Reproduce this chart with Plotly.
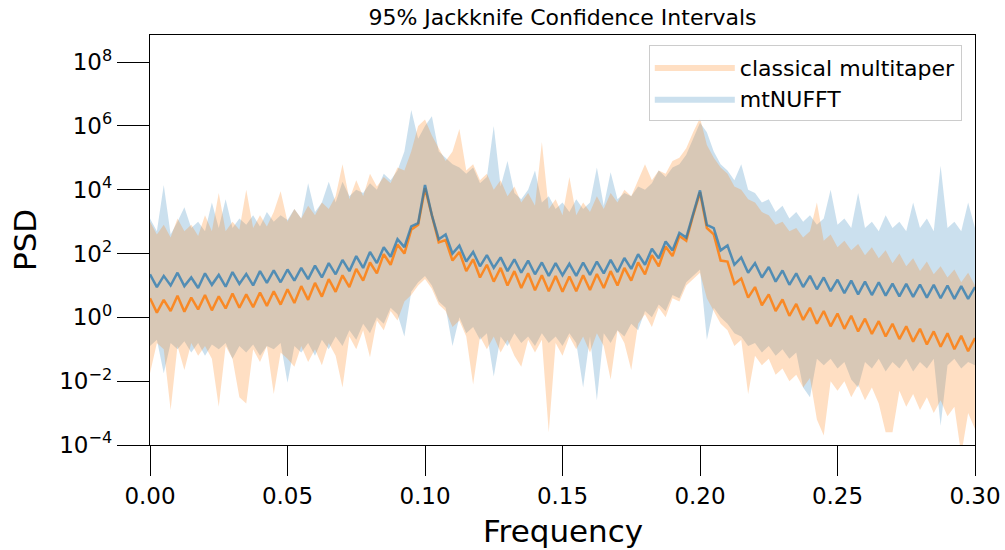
import numpy as np
import plotly.graph_objects as go

# frequency grid (step 0.0025)
freq = [round(0.0025 * i, 4) for i in range(121)]

# log10 PSD
mtnufft_psd = [
    1.35, 0.95, 1.3, 1.0, 1.4, 0.98, 1.25, 0.92, 1.38, 1.02, 1.33, 0.96, 1.42, 1.05, 1.36, 1.0,
    1.45, 1.08, 1.47, 1.1, 1.5, 1.15, 1.55, 1.2, 1.62, 1.25, 1.7, 1.35, 1.8, 1.45, 1.92, 1.55,
    2.05, 1.7, 2.2, 1.9, 2.45, 2.2, 2.85, 2.95, 4.15, 3.2, 2.45, 2.6, 2.0, 2.25, 1.75, 2.05,
    1.6, 1.95, 1.55, 1.88, 1.45, 1.82, 1.4, 1.78, 1.35, 1.72, 1.3, 1.7, 1.32, 1.68, 1.3, 1.72,
    1.33, 1.75, 1.38, 1.8, 1.42, 1.86, 1.52, 1.98, 1.65, 2.15, 1.85, 2.38, 2.1, 2.65, 2.5, 3.25,
    3.98, 2.9, 2.8, 2.1, 2.25, 1.65, 1.88, 1.4, 1.7, 1.25, 1.58, 1.12, 1.47, 1.02, 1.38, 0.95,
    1.3, 0.88, 1.25, 0.82, 1.18, 0.76, 1.15, 0.72, 1.12, 0.7, 1.1, 0.68, 1.06, 0.66, 1.05, 0.64,
    1.03, 0.62, 1.02, 0.6, 1.0, 0.58, 0.98, 0.58, 0.95,
]
classical_psd = [
    0.6, 0.15, 0.55, 0.2, 0.68, 0.18, 0.62, 0.25, 0.7, 0.22, 0.66, 0.28, 0.75, 0.3, 0.72, 0.32,
    0.78, 0.36, 0.82, 0.4, 0.88, 0.45, 0.98, 0.55, 1.08, 0.65, 1.2, 0.8, 1.32, 0.95, 1.52, 1.15,
    1.72, 1.38, 1.98, 1.65, 2.28, 2.0, 2.75, 2.9, 4.05, 3.15, 2.35, 2.42, 1.78, 2.05, 1.45, 1.82,
    1.25, 1.65, 1.12, 1.55, 1.0, 1.45, 0.92, 1.38, 0.85, 1.32, 0.82, 1.3, 0.8, 1.28, 0.82, 1.32,
    0.86, 1.36, 0.92, 1.45, 1.0, 1.55, 1.15, 1.72, 1.35, 1.95, 1.6, 2.22, 1.92, 2.55, 2.4, 3.2,
    3.92, 2.8, 2.6, 1.78, 1.75, 1.05, 1.22, 0.62, 0.95, 0.38, 0.72, 0.2, 0.56, 0.05, 0.42, -0.08,
    0.3, -0.2, 0.2, -0.28, 0.12, -0.36, 0.05, -0.44, -0.04, -0.52, -0.12, -0.6, -0.2, -0.68, -0.28, -0.76,
    -0.36, -0.85, -0.44, -0.92, -0.5, -1.0, -0.58, -1.06, -0.65,
]

# log10 jackknife 95% bounds
classical_hi = [
    3.0, 2.6, 2.9, 2.5, 3.1, 2.7, 2.9, 2.55, 3.2, 2.7, 3.9, 2.7, 3.0, 2.75, 4.0, 2.8,
    3.2, 2.85, 3.3, 3.95, 3.0, 3.4, 3.1, 3.5, 3.2, 3.6, 3.4, 3.8, 4.8, 3.7, 4.3, 3.8,
    4.5, 4.1, 4.4, 4.2, 4.7, 4.6, 5.2, 6.0, 6.2, 5.7, 5.3, 4.9, 5.2, 5.9, 4.6, 4.8,
    4.3, 4.5, 4.0, 4.3, 3.8, 4.1, 3.6, 3.9, 3.5, 5.5, 3.4, 3.7, 3.2, 4.4, 3.2, 3.6,
    3.3, 3.8, 3.4, 3.9, 3.6, 4.0, 3.8, 4.3, 4.8, 4.3, 4.6, 4.5, 4.9, 5.0, 5.3, 5.8,
    6.25, 5.4, 5.0, 4.7, 4.5, 4.1, 4.0, 3.7, 3.6, 3.3, 3.2, 2.9, 3.0, 2.7, 2.8, 2.5,
    2.7, 3.6, 2.4, 2.6, 2.2, 2.4, 2.1, 2.3, 1.95, 2.2, 1.85, 2.1, 1.7, 2.0, 1.6, 1.85,
    1.45, 1.75, 1.35, 1.6, 1.25, 1.5, 1.1, 1.4, 1.0,
]
classical_lo = [
    -1.75, -0.8, -1.0, -2.9, -0.9, -1.65, -0.8, -1.2, -0.9, -1.3, -2.8, -0.9, -1.3, -2.5, -2.7, -1.0,
    -1.4, -0.9, -2.4, -1.1, -1.3, -1.55, -0.9, -1.4, -1.0, -1.5, -0.8, -1.2, -2.2, -0.6, -1.0, -0.4,
    -1.25, -0.1, -0.4, 0.2, -0.1, 0.5, 0.7, 1.0, 1.2, 0.9, 0.4, 0.2, -0.3, -0.1, -0.6, -2.1,
    -0.6, -1.0, -0.6, -1.1, -0.7, -1.2, -1.55, -0.7, -1.1, -0.7, -3.6, -0.8, -1.2, -0.6, -1.0, -0.6,
    -1.1, -0.5, -0.9, -1.95, -0.4, -0.8, -1.65, -0.2, 0.1, -0.3, 0.3, 0.0, 0.6, 0.5, 1.0, 1.2,
    1.4, 0.6, 0.2, -0.2, -0.4, -0.9, -0.7, -2.4, -1.2, -1.5, -1.3, -1.8, -1.6, -2.0, -1.8, -2.2,
    -1.9, -3.2, -3.7, -2.0, -2.3, -2.0, -2.5, -2.1, -2.6, -2.2, -2.7, -3.6, -3.6, -2.3, -2.8, -2.4,
    -2.9, -2.5, -3.0, -2.6, -3.1, -2.8, -4.3, -3.0, -3.5,
]
mtnufft_hi = [
    3.1, 2.7, 4.15, 2.6, 3.0, 3.45, 2.8, 3.0, 2.7, 3.6, 2.8, 3.7, 2.8, 3.1, 2.9, 3.2,
    2.85, 3.3, 3.0, 3.2, 3.05, 3.4, 3.1, 4.2, 3.3, 3.6, 4.25, 3.6, 4.25, 3.8, 4.0, 3.9,
    4.2, 4.0, 4.5, 4.3, 4.6, 5.2, 6.5, 5.6, 6.0, 6.3, 5.2, 5.0, 4.8, 4.7, 4.5, 4.7,
    4.2, 4.4, 6.0, 4.1, 4.9, 3.9, 3.7, 4.0, 4.6, 3.6, 3.8, 3.4, 3.6, 3.3, 3.7, 3.4,
    3.6, 4.7, 3.5, 4.55, 3.7, 3.9, 3.8, 4.1, 4.0, 4.2, 4.6, 4.4, 4.7, 4.8, 5.1, 5.6,
    6.1, 5.8, 5.2, 4.8, 4.6, 4.3, 4.8, 4.0, 3.9, 3.6, 3.7, 3.3, 3.5, 3.1, 3.3, 3.0,
    3.2, 2.9, 3.1, 4.0, 2.9, 3.1, 2.8, 3.9, 2.8, 3.0, 2.7, 3.2, 2.8, 3.0, 2.7, 3.6,
    2.8, 3.1, 2.7, 4.75, 2.8, 3.0, 2.7, 3.6, 2.8,
]
mtnufft_lo = [
    -0.9, -0.7, -1.75, -0.8, -1.0, -0.75, -1.1, -0.8, -1.2, -0.85, -1.0, -0.8, -1.3, -0.9, -1.1, -0.85,
    -1.2, -0.9, -1.0, -0.8, -2.05, -0.9, -1.1, -0.8, -1.2, -0.7, -1.0, -0.6, -0.9, -0.4, -0.7, -0.2,
    -0.5, 0.0, -0.2, 0.3, 0.1, -0.6, 0.8, 1.1, 1.3, 1.0, 0.5, 0.3, -0.9, 0.0, -0.5, -0.3,
    -0.7, -0.5, -1.85, -0.6, -0.9, -0.5, -0.8, -0.6, -0.9, -0.5, -0.8, -0.6, -0.9, -0.5, -0.8, -2.2,
    -0.6, -2.6, -0.5, -0.8, -0.4, -0.6, -0.2, -0.4, 0.2, 0.0, 0.4, 0.2, 0.7, 0.6, 1.1, 1.3,
    1.5, -0.7, 0.3, 0.0, -0.2, -0.5, -0.6, -0.9, -0.8, -1.1, -0.9, -1.2, -1.0, -1.3, -1.1, -2.2,
    -2.5, -1.3, -1.5, -1.3, -1.6, -1.4, -1.95, -2.2, -1.4, -1.6, -1.3, -1.7, -1.4, -1.6, -1.3, -1.7,
    -1.4, -1.6, -1.3, -3.4, -1.5, -1.3, -1.6, -1.4, -1.5,
]

ORANGE = "#ff7f0e"
BLUE = "#1f77b4"
FONT = "DejaVu Sans"


def band(lo, hi):
    x = freq + freq[::-1]
    y = np.power(10.0, np.array(hi + lo[::-1]))
    return x, y


fig = go.Figure()

# confidence bands
x, y = band(mtnufft_lo, mtnufft_hi)
fig.add_trace(go.Scatter(
    x=x, y=y, fill="toself", mode="lines", line=dict(width=0),
    fillcolor="rgba(31,119,180,0.23)", name="mtNUFFT", legendrank=2,
    hoverinfo="skip",
))
x, y = band(classical_lo, classical_hi)
fig.add_trace(go.Scatter(
    x=x, y=y, fill="toself", mode="lines", line=dict(width=0),
    fillcolor="rgba(255,127,14,0.25)", name="classical multitaper", legendrank=1,
    hoverinfo="skip",
))

# PSD estimates
fig.add_trace(go.Scatter(
    x=freq, y=np.power(10.0, np.array(classical_psd)), mode="lines",
    line=dict(color=ORANGE, width=2.5), opacity=0.85, showlegend=False,
))
fig.add_trace(go.Scatter(
    x=freq, y=np.power(10.0, np.array(mtnufft_psd)), mode="lines",
    line=dict(color=BLUE, width=2.5), opacity=0.72, showlegend=False,
))

ytick_exp = [-4, -2, 0, 2, 4, 6, 8]
ytick_text = ["10<sup>%s</sup>" % str(e).replace("-", "\u2212") for e in ytick_exp]
xtick_vals = [0.0, 0.05, 0.10, 0.15, 0.20, 0.25, 0.30]

axis_common = dict(
    ticks="outside", tickwidth=1.2, tickcolor="black",
    showline=True, linecolor="black", linewidth=1.3, mirror=True,
    showgrid=False, zeroline=False, tickfont=dict(size=23), automargin=False,
)

fig.update_layout(
    width=1005, height=550,
    margin=dict(l=150, r=30, t=35, b=105),
    plot_bgcolor="white", paper_bgcolor="white",
    font=dict(family=FONT, color="black"),
    title=dict(text="95% Jackknife Confidence Intervals", x=0.5, xref="paper",
               y=1 - 17 / 550, yref="container", yanchor="middle",
               font=dict(size=22)),
    showlegend=True,
    legend=dict(x=0.984, y=0.975, xanchor="right", yanchor="top",
                bgcolor="rgba(255,255,255,0.8)", bordercolor="#cccccc", borderwidth=1,
                itemwidth=80, font=dict(size=22)),
    xaxis=dict(range=[0, 0.3], tickvals=xtick_vals, tickformat=".2f", ticklen=30,
               **axis_common),
    yaxis=dict(type="log", range=[-4, 8.85],
               tickvals=[10.0 ** e for e in ytick_exp], ticktext=ytick_text,
               ticklen=32, **axis_common),
    annotations=[
        dict(text="Frequency", x=0.5, xref="paper", y=-(531 - 445) / 410, yref="paper",
             yanchor="middle", showarrow=False, font=dict(size=31)),
        dict(text="PSD", x=-(150 - 25) / 825, xref="paper", xanchor="center",
             y=0.5, yref="paper", showarrow=False, textangle=-90, font=dict(size=31)),
    ],
)

# drop the default 8px page margin so the figure sits at the window origin
fig.write_html("out.html", config={"displayModeBar": False},
               post_script="document.body.style.margin='0px';")
